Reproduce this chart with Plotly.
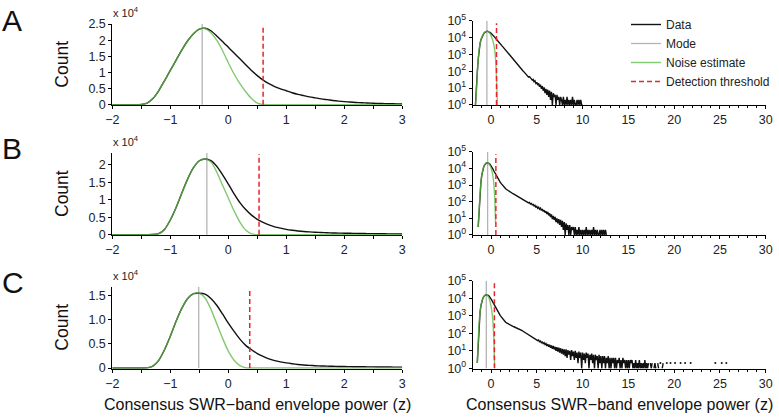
import numpy as np
import plotly.graph_objects as go

# ---------------- data (counts per 0.1-z bin) ----------------
body_x = np.round(np.arange(-2.0, 3.0001, 0.1), 1)          # bin centres -2.0 .. 3.0

noise_A = [0, 0, 0, 1, 5, 80, 500, 1900, 4300, 7400, 10600, 13800, 17000, 19800, 22000, 23400,
           23600, 22300, 20000, 16800, 13000, 9500, 6500, 4000, 1900, 500, 40, 1,
           0, 0, 0, 0, 0, 0, 0, 0, 0, 0, 0, 0, 0, 0, 0, 0, 0, 0, 0, 0, 0, 0, 0]
data_A = [0, 0, 0, 1, 5, 80, 500, 1900, 4300, 7400, 10600, 13800, 17000, 19800, 22000, 23400,
          23700, 22900, 21300, 19600, 17800, 16000, 14200, 12400, 10600, 9000, 7600, 6500, 5600,
          4900, 4300, 3700, 3200, 2800, 2400, 2100, 1800, 1550, 1300, 1100, 950, 800, 680, 580,
          500, 430, 370, 320, 280, 240, 210]
tail_A = [185, 150, 140, 118, 104, 92, 80, 66, 62, 55,
          45, 48, 37, 35, 30, 33, 24, 27, 19, 22,
          15, 19, 12, 16, 9, 13, 7, 11, 5, 9,
          4, 8, 3, 7, 2, 6, 1, 5, 3, 4,
          1, 4, 2, 3, 1, 3, 2, 1, 3, 1,
          2, 1, 3, 1, 2, 1, 2, 1, 3, 1,
          2, 1, 1, 2, 1, 2, 1, 2, 1, 1]

noise_B = [0, 0, 0, 0, 0, 0, 3, 30, 300, 1500, 4200, 7800, 12000, 16000, 19200, 21200, 21700,
           20800, 18000, 14200, 10500, 6800, 3600, 1300, 200, 5,
           0, 0, 0, 0, 0, 0, 0, 0, 0, 0, 0, 0, 0, 0, 0, 0, 0, 0, 0, 0, 0, 0, 0, 0, 0]
data_B = [0, 0, 0, 0, 0, 0, 3, 30, 300, 1500, 4200, 7800, 12000, 16000, 19200, 21200, 21700,
          21200, 19600, 17200, 14500, 11700, 9200, 7200, 5600, 4400, 3500, 2800, 2250, 1850,
          1500, 1250, 1050, 900, 780, 680, 600, 540, 490, 450, 410, 380, 350, 325, 300, 280,
          260, 240, 225, 210, 195]
tail_B = [180, 172, 160, 150, 138, 130, 118, 112, 100, 95,
          84, 90, 72, 78, 64, 68, 55, 60, 47, 52,
          40, 46, 35, 41, 30, 36, 26, 31, 22, 27,
          18, 24, 15, 20, 12, 17, 9, 14, 8, 12,
          6, 10, 5, 9, 4, 8, 3, 7, 2, 6,
          1, 5, 2, 4, 1, 4, 1, 3, 2, 3,
          1, 3, 1, 2, 1, 3, 1, 2, 1, 2,
          1, 2, 1, 3, 1, 2, 1, 2, 1, 2,
          1, 3, 1, 2, 1, 2, 1, 1, 2, 1,
          2, 1, 2, 1, 2, 1]

noise_C = [0, 0, 0, 0, 0, 2, 30, 400, 1600, 3800, 6600, 9700, 12400, 14400, 15400, 15500,
           14500, 12200, 9200, 6200, 3500, 1600, 500, 60, 1,
           0, 0, 0, 0, 0, 0, 0, 0, 0, 0, 0, 0, 0, 0, 0, 0, 0, 0, 0, 0, 0, 0, 0, 0, 0, 0]
data_C = [0, 0, 0, 0, 0, 2, 30, 400, 1600, 3800, 6600, 9700, 12400, 14400, 15400, 15500,
          15300, 14400, 13000, 11200, 9300, 7600, 6000, 4700, 3800, 3000, 2400, 1900, 1550,
          1280, 1060, 890, 750, 640, 550, 480, 430, 390, 360, 335, 310, 290, 275, 260, 248,
          236, 225, 215, 205, 197, 190]
tail_C = [175, 162, 150, 142, 130, 121, 115, 105, 98, 92,
          84, 80, 72, 70, 62, 60, 53, 52, 46, 44,
          38, 41, 33, 36, 29, 32, 26, 29, 23, 26,
          19, 24, 17, 22, 15, 20, 13, 19, 12, 17,
          10, 16, 9, 15, 8, 14, 7, 13, 6, 12,
          5, 12, 4, 11, 6, 10, 3, 11, 5, 9,
          3, 10, 4, 8, 2, 9, 4, 8, 1, 8,
          3, 7, 2, 8, 4, 7, 1, 6, 3, 7,
          2, 6, 1, 6, 3, 5, 1, 6, 2, 5,
          1, 5, 2, 5, 1, 4, 2, 5, 1, 4,
          1, 4, 2, 4, 1, 4, 1, 3, 2, 4,
          1, 3, 1, 4, 2, 3, 1, 3, 1, 3,
          1, 3, 2, 3, 1, 2, 1, 3, 1, 2,
          1, 3, 1, 2, 1, 2, 1, 3, 1, 2,
          1, 2, 0, 2, 1, 2, 0, 1, 2, 1,
          0, 2, 1, 0, 2, 0, 1, 2, 0, 1,
          0, 2, 0, 1, 0, 2, 0, 0, 1, 0,
          2, 0, 0, 1, 0, 0, 2, 0, 0, 0,
          0, 2, 0, 0, 0, 1, 0, 2, 0, 0,
          0, 0, 0, 0, 0, 0, 0, 0, 0, 0,
          0, 0, 0, 0, 0, 0, 0, 0, 0, 0,
          0, 0, 0, 0, 2, 0, 0, 0, 0, 0,
          0, 2, 0, 0, 0, 0, 2, 0, 0, 0]

mode_z = [-0.45, -0.37, -0.51]
threshold_z = [0.60, 0.53, 0.37]
panel_letters = ["A", "B", "C"]
lin_tickvals = [[0, 5000, 10000, 15000, 20000, 25000],
                [0, 5000, 10000, 15000, 20000],
                [0, 5000, 10000, 15000]]
lin_ticktext = [["0", "0.5", "1", "1.5", "2", "2.5"],
                ["0", "0.5", "1", "1.5", "2"],
                ["0", "0.5", "1.0", "1.5"]]
lin_ymax = [25000, 23500, 16850]
log_tickvals = [1, 10, 100, 1000, 10000, 100000]
log_ticktext = ["10<sup>0</sup>", "10<sup>1</sup>", "10<sup>2</sup>",
                "10<sup>3</sup>", "10<sup>4</sup>", "10<sup>5</sup>"]
left_xticks = [-2, -1.5, -1, -0.5, 0, 0.5, 1, 1.5, 2, 2.5, 3]
left_xtext = ["−2", " ", "−1", " ", "0", " ", "1", " ", "2", " ", "3"]
right_xticks = [0, 5, 10, 15, 20, 25, 30]
xlabel = "Consensus SWR−band envelope power (z)"

noises = [noise_A, noise_B, noise_C]
datas = [data_A, data_B, data_C]
tails = [tail_A, tail_B, tail_C]

# ---------------- layout geometry (pixels) ----------------
W, H = 779, 417
FONT = "Liberation Sans, Arial, Helvetica, sans-serif"
left_dom = [112.3 / W, 402.3 / W]
right_dom = [472.7 / W, 765.7 / W]
left_ypx = [(24.0, 105.3), (152.7, 235.3), (286.7, 368.7)]
right_ypx = [(20.7, 105.3), (151.7, 235.3), (280.7, 368.7)]

BLACK = "#111111"
GRAY = "#b4b4b4"
GREEN = "rgba(96,186,70,0.78)"
RED = "#e3262c"

fig = go.Figure()

def pdom(px):
    return [1 - px[1] / H, 1 - px[0] / H]

for r in range(3):
    xl, yl = f"x{2*r+1}", f"y{2*r+1}"
    xr, yr = f"x{2*r+2}", f"y{2*r+2}"
    show = (r == 0)
    body_d = np.array(datas[r], dtype=float)
    body_n = np.array(noises[r], dtype=float)
    tail = np.array(tails[r], dtype=float)
    tail_x = np.round(body_x[-1] + 0.1 * np.arange(1, len(tail) + 1), 1)
    full_x = np.concatenate([body_x, tail_x])
    full_d = np.concatenate([body_d, tail])

    # ---- left (linear) ----
    ymax = lin_ymax[r]
    fig.add_trace(go.Scatter(x=[mode_z[r], mode_z[r]], y=[0, ymax], mode="lines",
                             line=dict(color=GRAY, width=1.3), xaxis=xl, yaxis=yl,
                             showlegend=False, hoverinfo="skip"))
    fig.add_trace(go.Scatter(x=body_x, y=body_d, mode="lines", line=dict(color=BLACK, width=1.4, shape="spline", smoothing=0.6),
                             xaxis=xl, yaxis=yl, showlegend=False))
    fig.add_trace(go.Scatter(x=body_x, y=body_n, mode="lines", line=dict(color=GREEN, width=1.4, shape="spline", smoothing=0.6),
                             xaxis=xl, yaxis=yl, showlegend=False))
    fig.add_trace(go.Scatter(x=[threshold_z[r], threshold_z[r]], y=[0, ymax * 0.985], mode="lines",
                             line=dict(color=RED, width=1.5, dash="5px,3px"), xaxis=xl, yaxis=yl,
                             showlegend=False, hoverinfo="skip"))

    # ---- right (log) ----
    d_log = np.where(full_d > 0, full_d, np.nan)
    n_log = np.where(body_n > 0, body_n, np.nan)
    fig.add_trace(go.Scatter(x=[mode_z[r], mode_z[r]], y=[1, 1e5], mode="lines",
                             line=dict(color=GRAY, width=1.3), xaxis=xr, yaxis=yr,
                             name="Mode", legendrank=2, showlegend=show, hoverinfo="skip"))
    fig.add_trace(go.Scatter(x=full_x, y=d_log, mode="lines", line=dict(color=BLACK, width=1.4),
                             xaxis=xr, yaxis=yr, name="Data", legendrank=1, showlegend=show))
    # isolated bins (neighbours empty) drawn as dots
    pad = np.concatenate([[0], full_d, [0]])
    iso = (pad[1:-1] > 1) & (pad[:-2] <= 0) & (pad[2:] <= 0)
    if iso.any():
        fig.add_trace(go.Scatter(x=full_x[iso], y=full_d[iso], mode="markers",
                                 marker=dict(color=BLACK, size=2), xaxis=xr, yaxis=yr,
                                 showlegend=False, hoverinfo="skip"))
    fig.add_trace(go.Scatter(x=body_x, y=n_log, mode="lines", line=dict(color=GREEN, width=1.4, shape="spline", smoothing=0.5),
                             xaxis=xr, yaxis=yr, name="Noise estimate", legendrank=3, showlegend=show))
    fig.add_trace(go.Scatter(x=[threshold_z[r], threshold_z[r]], y=[1, 10 ** 4.85], mode="lines",
                             line=dict(color=RED, width=1.5, dash="5px,3px"), xaxis=xr, yaxis=yr,
                             name="Detection threshold", legendrank=4, showlegend=show, hoverinfo="skip"))

    axcommon = dict(showline=True, linecolor="#000", linewidth=1, ticks="outside", ticklen=3,
                    tickwidth=1, tickcolor="#000", showgrid=False, zeroline=False, automargin=False,
                    tickfont=dict(family=FONT, size=12.5, color="#222"), layer="below traces")
    fig.layout[f"xaxis{2*r+1}"] = dict(axcommon, domain=left_dom, anchor=yl, range=[-2, 3],
                                        tickvals=left_xticks, ticktext=left_xtext)
    fig.layout[f"yaxis{2*r+1}"] = dict(axcommon, domain=pdom(left_ypx[r]), anchor=xl,
                                        range=[-ymax * 0.008, ymax], tickvals=lin_tickvals[r],
                                        ticktext=lin_ticktext[r])
    fig.layout[f"xaxis{2*r+2}"] = dict(axcommon, domain=right_dom, anchor=yr, range=[-2, 30],
                                        tickvals=right_xticks,
                                        minor=dict(dtick=1, ticklen=2, tickcolor="#000", ticks="outside"))
    fig.layout[f"yaxis{2*r+2}"] = dict(axcommon, domain=pdom(right_ypx[r]), anchor=xr, type="log",
                                        range=[-0.02, 5], tickvals=log_tickvals, ticktext=log_ticktext)

    # annotations: panel letter, Count, x 10^4
    ytop_l, ybot_l = left_ypx[r]
    fig.add_annotation(x=0, xref="paper", xanchor="left", y=1 - (ytop_l - 4) / H, yref="paper",
                       yanchor="middle", text=panel_letters[r], showarrow=False,
                       font=dict(family=FONT, size=30, color="#111"))
    fig.add_annotation(x=62 / W, xref="paper", xanchor="center", y=1 - (ytop_l + ybot_l) / 2 / H,
                       yref="paper", yanchor="middle", text="Count", textangle=-90, showarrow=False,
                       font=dict(family=FONT, size=17.5, color="#111"))
    fig.add_annotation(x=111 / W, xref="paper", xanchor="left", y=1 - (ytop_l - 3) / H, yref="paper",
                       yanchor="bottom", text="x 10<sup>4</sup>", showarrow=False,
                       font=dict(family=FONT, size=11, color="#222"))

for xc in [(112.3 + 402.3) / 2, (472.7 + 765.7) / 2]:
    fig.add_annotation(x=xc / W, xref="paper", xanchor="center", y=1 - 404 / H, yref="paper",
                       yanchor="middle", text=xlabel, showarrow=False,
                       font=dict(family=FONT, size=16, color="#111"))

fig.update_layout(
    width=W, height=H, margin=dict(l=0, r=0, t=0, b=0, pad=0, autoexpand=False),
    paper_bgcolor="white", plot_bgcolor="white",
    showlegend=True,
    legend=dict(x=626 / W, y=1 - 10 / H, xanchor="left", yanchor="top",
                font=dict(family=FONT, size=12, color="#222"), bgcolor="rgba(0,0,0,0)",
                tracegroupgap=0, traceorder="normal"),
)

fig.write_html("out.html", config={"displayModeBar": False},
               post_script="document.body.style.margin='0px';document.body.style.overflow='hidden';")
